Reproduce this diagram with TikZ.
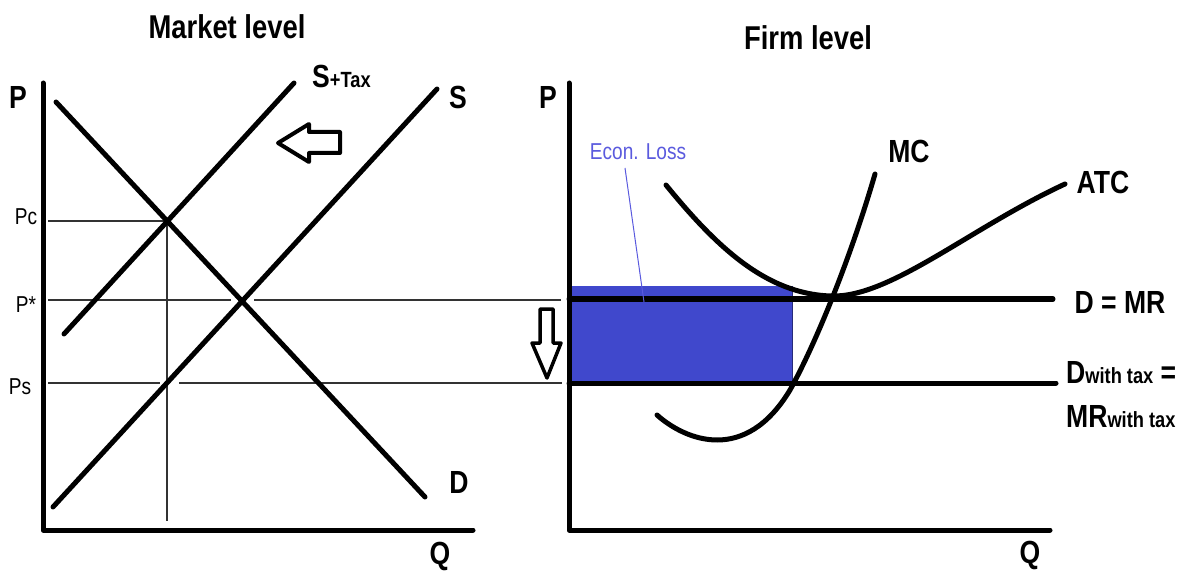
\documentclass[tikz,border=0pt]{standalone}
\usepackage{fontspec}
\setmainfont[FakeStretch=0.83]{Liberation Sans}
\definecolor{lossblue}{RGB}{64,72,204}
\definecolor{losstext}{RGB}{90,90,222}
\begin{document}
\begin{tikzpicture}[x=1pt,y=-1pt,
  curve/.style={line width=5pt,line cap=round,line join=round},
  thinl/.style={line width=1.3pt,black!80},
  shiftarrow/.style={line width=4pt,line join=round,fill=white},
  title/.style={font=\bfseries\fontsize{33}{36}\selectfont,inner sep=0pt},
  big/.style={font=\bfseries\fontsize{32}{35}\selectfont,inner sep=0pt},
  small/.style={font=\fontsize{23}{25}\selectfont,inner sep=0pt}]
\useasboundingbox (0,0) rectangle (1184,572);

% ---------------- Market level ----------------
\node[title] (t1) at (227,27) {Market level};
\node[big] (p1) at (18,97) {P};
\node[big] (q1) at (440,556) {Q};
\node[small] (pc) at (26,217) {Pc};
\node[small] (pstar) at (26,305) {P*};
\node[small] (ps) at (20,387) {Ps};

% guide lines
\draw[thinl] (48,221) -- (167,221);
\draw[thinl] (167,221) -- (167,521);
\draw[thinl] (48,300) -- (231,300);
\draw[thinl] (254,300) -- (561,300);
\draw[thinl] (48,383) -- (160,383);
\draw[thinl] (179,383) -- (562,383);

% axes
\draw[curve] (43,83) -- (43,530) -- (473,530);
% curves
\draw[curve] (56,102) -- (425,497);
\draw[curve] (53,507) -- (437,89);
\draw[curve] (64,334) -- (294,83);
\node[big] (dl) at (459,482) {D};
\node[big] (sl) at (458,97) {S};
\node[big,anchor=base west] (stax) at (312,88) {S{\bfseries\fontsize{22}{24}\selectfont +Tax}};

% shift arrows
\draw[shiftarrow] (278,143) -- (309,124) -- (309,132) -- (340,132) -- (340,153) -- (309,153) -- (309,162) -- cycle;
\draw[shiftarrow,line width=3.5pt] (540,309) -- (553,309) -- (553,343) -- (561,343) -- (547,378) -- (532,343) -- (540,343) -- cycle;

% ---------------- Firm level ----------------
\node[title] (t2) at (808,38) {Firm level};
\node[big] (p2) at (548,97) {P};
\node[big] (q2) at (1030,555) {Q};

\fill[lossblue] (569,286) rectangle (792,382);
\draw[line width=1pt,lossblue!60!black] (792,286) -- (792,382);

\draw[curve] (569,83) -- (569,530) -- (1050,530);
\draw[curve] (569,299) -- (1053,299);
\draw[curve] (569,383) -- (1056,383);

\node[small,text=losstext] (loss) at (638,152) {Econ. Loss};
\coordinate (lossend) at (644,302);
\draw[losstext,line width=1pt] (625,168) -- (lossend);

% ATC
\draw[curve] (666,185) .. controls (715,245) and (765,294) .. (831,296)
  .. controls (890,298) and (970,228) .. (1065,184);
% MC
\draw[curve] (657,415) .. controls (685,440) and (745,465) .. (790,390)
  .. controls (815,345) and (850,260) .. (875,174);

\node[big] (mc) at (909,151) {MC};
\node[big] (atc) at (1103,182) {ATC};
\node[big] (dmr) at (1120,302) {D = MR};
\node[big,anchor=base west] (dtax) at (1066,383) {D{\bfseries\fontsize{22}{24}\selectfont with tax} =};
\node[big,anchor=base west] (mrtax) at (1066,427) {MR{\bfseries\fontsize{22}{24}\selectfont with tax}};
\end{tikzpicture}
\end{document}
